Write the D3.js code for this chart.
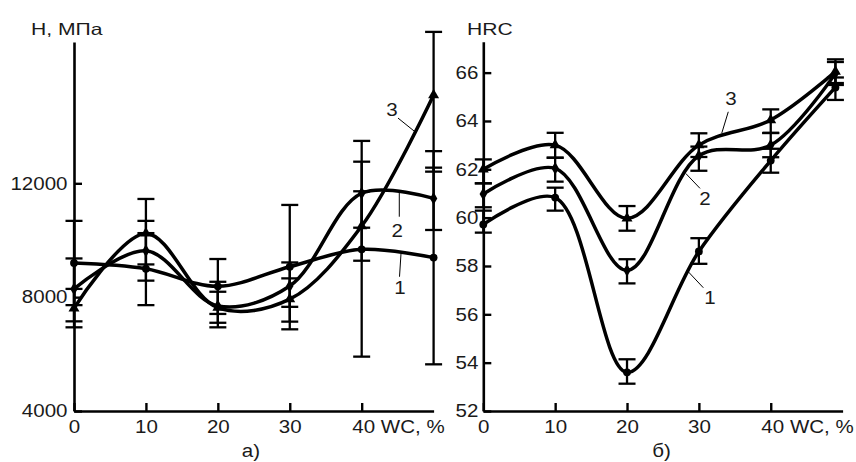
<!DOCTYPE html>
<html>
<head>
<meta charset="utf-8">
<script src="https://cdn.jsdelivr.net/npm/d3@7"></script>
<style>
  html, body { margin: 0; padding: 0; background: #fff; }
  svg { display: block; font-family: "Liberation Sans", Arial, sans-serif; }
</style>
</head>
<body>
<svg id="chart" width="856" height="462"></svg>
<script>
// WC content, %
const wcA = [0, 10, 20, 30, 40, 50];
const wcB = [0, 10, 20, 30, 40, 49];

// Panel a) hardness H, MPa
const hA1 = [9200, 9000, 8380, 9070, 9680, 9390];
const hA2 = [8290, 9630, 7690, 8390, 11650, 11470];
const hA3 = [7610, 10240, 7630, 7930, 10500, 15100];
const hA1lo = [7720, 7720, 7410, 6870, 5910, 5640];
const hA1hi = [10680, 10250, 9340, 11240, 13490, 13130];
const hA2lo = [7150, 8580, 6940, 7660, 10440, 10360];
const hA2hi = [9360, 10680, 8540, 9220, 12760, 12550];
const hA3lo = [6940, 9150, 7100, 7140, 9280, 12410];
const hA3hi = [8290, 11450, 8190, 8660, 11720, 17320];
const ticksA = [4000, 8000, 12000];

// Panel б) hardness HRC
const hB1 = [59.72, 60.83, 53.6, 58.6, 62.36, 65.39];
const hB2 = [60.98, 62.04, 57.82, 62.56, 63.0, 65.97];
const hB3 = [62.0, 63.0, 59.97, 63.0, 64.04, 66.04];
const hB1lo = [59.38, 60.29, 53.13, 58.09, 61.86, 64.87];
const hB1hi = [60.29, 61.24, 54.14, 59.15, 62.85, 65.8];
const hB2lo = [60.43, 61.49, 57.28, 61.94, 62.5, 65.49];
const hB2hi = [61.42, 62.48, 58.28, 62.94, 63.5, 66.44];
const hB3lo = [61.42, 62.48, 59.46, 62.51, 63.51, 65.57];
const hB3hi = [62.41, 63.51, 60.48, 63.49, 64.48, 66.55];
const ticksB = [52, 54, 56, 58, 60, 62, 64, 66];

const xTicks = [0, 10, 20, 30, 40];

const svg = d3.select("#chart");

function series(x, y, lo, hi) {
  return x.map((v, i) => ({ x: v, y: y[i], lo: lo[i], hi: hi[i] }));
}

// widen glyphs horizontally (the lettering is set wide)
function widen(sel, k) {
  sel.each(function () {
    const w = this.getComputedTextLength();
    d3.select(this).attr("textLength", w * k).attr("lengthAdjust", "spacingAndGlyphs");
  });
}

const markerTypes = [d3.symbolCircle, d3.symbolDiamond, d3.symbolTriangle];
const markerSizes = [48, 48, 52];

function drawPanel(cfg) {
  const g = svg.append("g");
  const x = d3.scaleLinear().domain([0, 50]).range(cfg.xRange);
  const y = d3.scaleLinear().domain(cfg.yDomain).range(cfg.yRange);

  // axes
  const yAxis = d3.axisLeft(y).tickValues(cfg.yTicks).tickSizeInner(-8).tickSizeOuter(0)
    .tickPadding(cfg.yPad).tickFormat(d3.format("d"));
  const gy = g.append("g").attr("transform", `translate(${cfg.xRange[0]},0)`).call(yAxis);
  const xAxis = d3.axisBottom(x).tickValues(xTicks).tickSizeInner(-8).tickSizeOuter(0)
    .tickPadding(9.5).tickFormat(d => d === 40 ? "40 WC, %" : d);
  const gx = g.append("g").attr("transform", `translate(0,${cfg.yRange[0]})`).call(xAxis);
  [gx, gy].forEach(a => {
    a.select(".domain").attr("stroke", "#000").attr("stroke-width", 2.6);
    a.selectAll(".tick line").attr("stroke", "#000").attr("stroke-width", 2.4);
    a.selectAll(".tick text").attr("fill", "#1a1a1a").style("font-size", "18px");
  });
  gx.selectAll(".tick text").filter(d => d === 40).attr("text-anchor", "start").attr("dx", "-0.55em");
  widen(gx.selectAll(".tick text"), 1.14);
  widen(gy.selectAll(".tick text"), 1.14);

  // axis title
  widen(g.append("text").attr("x", cfg.titleX).attr("y", 35).text(cfg.title)
    .style("font-size", "16.5px").attr("fill", "#1a1a1a"), 1.28);
  // panel label
  widen(g.append("text").attr("x", x(cfg.panelX)).attr("y", 457).attr("text-anchor", "middle")
    .text(cfg.panel).style("font-size", "18px").attr("fill", "#1a1a1a"), 1.14);

  const line = d3.line().x(d => x(d.x)).y(d => y(d.y)).curve(d3.curveCatmullRom.alpha(0.5));

  cfg.data.forEach(s => {
    // error bars
    const eb = g.append("g").attr("stroke", "#000").attr("stroke-width", 2.3);
    s.forEach(d => {
      eb.append("line").attr("x1", x(d.x)).attr("x2", x(d.x)).attr("y1", y(d.lo)).attr("y2", y(d.hi));
      [d.lo, d.hi].forEach(v => {
        eb.append("line").attr("x1", x(d.x) - 8.5).attr("x2", x(d.x) + 8.5)
          .attr("y1", y(v)).attr("y2", y(v));
      });
    });
  });

  cfg.data.forEach((s, k) => {
    g.append("path").datum(s).attr("d", line).attr("fill", "none")
      .attr("stroke", "#000").attr("stroke-width", 3.5).attr("stroke-linejoin", "round");
    g.selectAll(null).data(s).join("path")
      .attr("transform", d => `translate(${x(d.x)},${y(d.y)})`)
      .attr("d", d3.symbol(markerTypes[k], markerSizes[k]))
      .attr("fill", "#000");
  });

  // curve numbers with leader lines
  cfg.notes.forEach(n => {
    g.append("line").attr("x1", x(n.x1)).attr("y1", y(n.y1)).attr("x2", x(n.x2)).attr("y2", y(n.y2))
      .attr("stroke", "#000").attr("stroke-width", 1);
    widen(g.append("text").attr("x", x(n.tx)).attr("y", y(n.ty)).attr("text-anchor", "middle")
      .attr("dominant-baseline", "central").text(n.label)
      .style("font-size", "18px").attr("fill", "#1a1a1a"), 1.14);
  });
}

drawPanel({
  xRange: [74, 433.6],
  yDomain: [4000, 16965],
  yRange: [411, 42],
  yTicks: ticksA,
  yPad: 6.5,
  title: "H, МПа",
  titleX: 31,
  panel: "а)",
  panelX: 24.6,
  data: [
    series(wcA, hA1, hA1lo, hA1hi),
    series(wcA, hA2, hA2lo, hA2hi),
    series(wcA, hA3, hA3lo, hA3hi)
  ],
  notes: [
    { label: "3", tx: 44.2, ty: 14574, x1: 45.05, y1: 14293, x2: 47.41, y2: 13812 },
    { label: "2", tx: 44.95, ty: 10334, x1: 45.23, y1: 11729, x2: 45.23, y2: 10826 },
    { label: "1", tx: 45.33, ty: 8310, x1: 45.47, y1: 9540, x2: 45.26, y2: 8718 }
  ]
});

drawPanel({
  xRange: [483.3, 842.6],
  yDomain: [52, 67.28],
  yRange: [411, 41.7],
  yTicks: ticksB,
  yPad: 5,
  title: "HRC",
  titleX: 467,
  panel: "б)",
  panelX: 24.8,
  data: [
    series(wcB, hB1, hB1lo, hB1hi),
    series(wcB, hB2, hB2lo, hB2hi),
    series(wcB, hB3, hB3lo, hB3hi)
  ],
  notes: [
    { label: "3", tx: 34.47, ty: 64.9, x1: 34.09, y1: 64.38, x2: 33.18, y2: 63.49 },
    { label: "2", tx: 30.85, ty: 60.78, x1: 28.17, y1: 61.83, x2: 30.16, y2: 61.21 },
    { label: "1", tx: 31.55, ty: 56.69, x1: 28.53, y1: 57.76, x2: 30.62, y2: 57.1 }
  ]
});
</script>
</body>
</html>
